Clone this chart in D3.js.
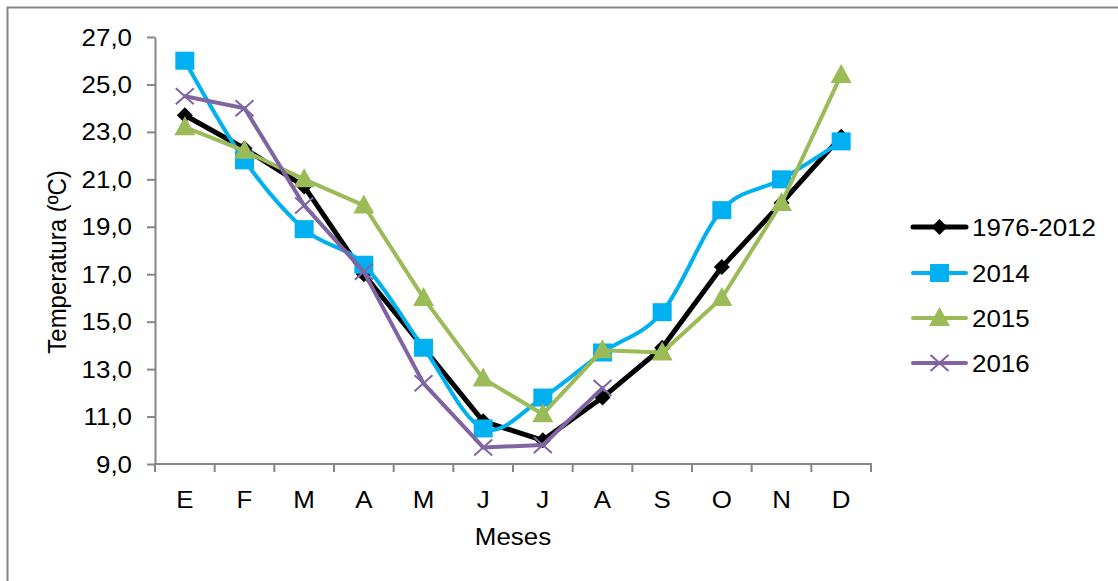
<!DOCTYPE html>
<html>
<head>
<meta charset="utf-8">
<script src="https://cdn.jsdelivr.net/npm/d3@7"></script>
<style>
  html, body { margin: 0; padding: 0; background: #fff; }
  svg { display: block; font-family: "Liberation Sans", Arial, sans-serif; }
</style>
</head>
<body>
<svg id="chart" width="1118" height="581"></svg>
<script>
// Monthly mean temperature (ºC)
const months = ["E", "F", "M", "A", "M", "J", "J", "A", "S", "O", "N", "D"];
const seriesNames = ["1976-2012", "2014", "2015", "2016"];
const values1976_2012 = [23.7, 22.3, 20.7, 17.0, 13.9, 10.8, 10.0, 11.8, 13.9, 17.3, 20.0, 22.8];
const values2014 = [26.0, 21.8, 18.9, 17.4, 13.9, 10.5, 11.8, 13.7, 15.4, 19.7, 21.0, 22.6];
const values2015 = [23.2, 22.2, 21.0, 19.9, 16.0, 12.6, 11.1, 13.8, 13.7, 16.0, 20.0, 25.4];
const values2016 = [24.5, 24.0, 19.9, 17.1, 12.4, 9.7, 9.8, 12.2];
const yTicks = [9, 11, 13, 15, 17, 19, 21, 23, 25, 27];

const series = [
  { name: seriesNames[0], values: values1976_2012, color: "#000000", width: 5, marker: "diamond", smooth: false },
  { name: seriesNames[1], values: values2014, color: "#00b0f0", width: 4, marker: "square", smooth: true },
  { name: seriesNames[2], values: values2015, color: "#9bbb59", width: 4, marker: "triangle", smooth: false },
  { name: seriesNames[3], values: values2016, color: "#8064a2", width: 4, marker: "cross", smooth: false }
];

const svg = d3.select("#chart");
const SX = 1.08; // horizontal text stretch
const FS = 24;   // base font size
const axisColor = "#868686";

// outer frame
svg.append("rect")
  .attr("x", 7.5).attr("y", 7.5).attr("width", 1200).attr("height", 700)
  .attr("fill", "none").attr("stroke", axisColor).attr("stroke-width", 2);

const plot = { left: 155, right: 871, top: 37, bottom: 464 };

const x = d3.scaleBand().domain(d3.range(months.length))
  .range([plot.left, plot.right]).paddingInner(0).paddingOuter(0);
const y = d3.scaleLinear().domain([9, 27]).range([plot.bottom, plot.top]);

function stretchedText(g, tx, ty, str, size, anchor) {
  const t = g.append("g").attr("transform", `translate(${tx},${ty}) scale(${SX},1)`);
  return t.append("text").attr("x", 0).attr("y", 0)
    .attr("text-anchor", anchor).attr("font-size", size).attr("fill", "#000").text(str);
}

// y axis
const yAxis = d3.axisLeft(y).tickValues(yTicks).tickSize(8).tickSizeOuter(0)
  .tickFormat(d => d3.format(".1f")(d).replace(".", ","));
const gy = svg.append("g").attr("transform", `translate(${plot.left},0)`).call(yAxis);
gy.select(".domain").attr("stroke", axisColor).attr("stroke-width", 2);
gy.selectAll(".tick line").attr("stroke", axisColor).attr("stroke-width", 2);
gy.selectAll(".tick text").remove();
yTicks.forEach(v => {
  stretchedText(svg, plot.left - 23, y(v) + 8.5, d3.format(".1f")(v).replace(".", ","), FS, "end");
});

// x axis: tick marks at category boundaries
const gx = svg.append("g");
gx.append("line")
  .attr("x1", plot.left - 1).attr("x2", plot.right + 1)
  .attr("y1", plot.bottom).attr("y2", plot.bottom)
  .attr("stroke", axisColor).attr("stroke-width", 2);
d3.range(months.length + 1).forEach(i => {
  const xi = i < months.length ? x(i) : x(months.length - 1) + x.bandwidth();
  gx.append("line").attr("x1", xi).attr("x2", xi)
    .attr("y1", plot.bottom).attr("y2", plot.bottom + 8)
    .attr("stroke", axisColor).attr("stroke-width", 2);
});
months.forEach((m, i) => {
  stretchedText(svg, x(i) + x.bandwidth() / 2, 508, m, FS, "middle");
});

// axis titles
stretchedText(svg, 513, 545, "Meses", FS, "middle");
svg.append("g").attr("transform", `translate(66,262) scale(${SX},1) rotate(-90)`)
  .append("text").attr("text-anchor", "middle").attr("font-size", FS).attr("fill", "#000")
  .text("Temperatura (ºC)");

// marker shapes
function drawMarker(g, cx, cy, s) {
  if (s.marker === "diamond") {
    g.append("path").attr("d", `M${cx},${cy - 8}L${cx + 8},${cy}L${cx},${cy + 8}L${cx - 8},${cy}Z`)
      .attr("fill", s.color);
  } else if (s.marker === "square") {
    g.append("rect").attr("x", cx - 9.5).attr("y", cy - 9).attr("width", 19).attr("height", 18)
      .attr("fill", s.color);
  } else if (s.marker === "triangle") {
    g.append("path").attr("d", `M${cx},${cy - 11}L${cx + 10.5},${cy + 8}L${cx - 10.5},${cy + 8}Z`)
      .attr("fill", s.color);
  } else if (s.marker === "cross") {
    g.append("path").attr("d", `M${cx - 9},${cy - 8}L${cx + 9},${cy + 8}M${cx - 9},${cy + 8}L${cx + 9},${cy - 8}`)
      .attr("stroke", s.color).attr("stroke-width", 2).attr("fill", "none");
  }
}

// series lines and markers
series.forEach(s => {
  const g = svg.append("g");
  const line = d3.line()
    .x((d, i) => x(i) + x.bandwidth() / 2)
    .y(d => y(d))
    .curve(s.smooth ? d3.curveCatmullRom.alpha(0) : d3.curveLinear);
  g.append("path").datum(s.values).attr("d", line)
    .attr("fill", "none").attr("stroke", s.color).attr("stroke-width", s.width)
    .attr("stroke-linejoin", "round").attr("stroke-linecap", "round");
  s.values.forEach((v, i) => drawMarker(g, x(i) + x.bandwidth() / 2, y(v), s));
});

// legend
const legendY = [227, 273, 318, 363];
series.forEach((s, i) => {
  const g = svg.append("g");
  const ly = legendY[i];
  g.append("line").attr("x1", 913).attr("x2", 966).attr("y1", ly).attr("y2", ly)
    .attr("stroke", s.color).attr("stroke-width", s.width).attr("stroke-linecap", "round");
  drawMarker(g, 939.5, ly, s);
  stretchedText(svg, 972, ly + 9, s.name, FS, "start");
});
</script>
</body>
</html>
